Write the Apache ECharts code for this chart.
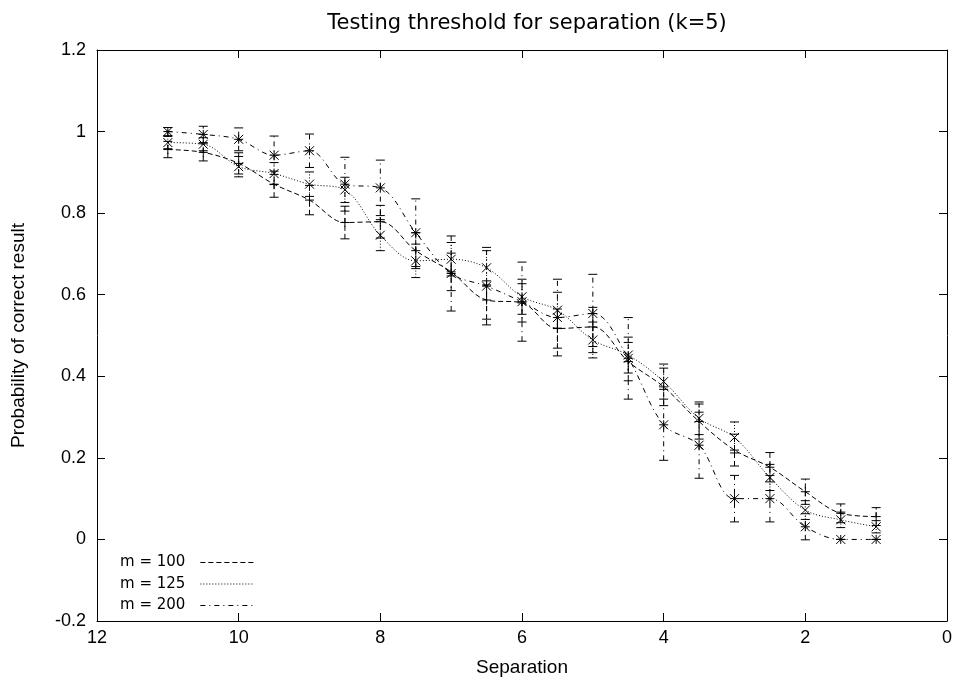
<!DOCTYPE html>
<html><head><meta charset="utf-8">
<script src="https://cdn.jsdelivr.net/npm/echarts@6/dist/echarts.min.js"></script>
<style>html,body{margin:0;padding:0;background:#fff}#c{width:958px;height:685px}</style>
</head><body><div id="c"></div>
<script>
// ---- data ----
const separation = [11, 10.5, 10, 9.5, 9, 8.5, 8, 7.5, 7, 6.5, 6, 5.5, 5, 4.5, 4, 3.5, 3, 2.5, 2, 1.5, 1];
const m100    = [0.956, 0.949, 0.922, 0.871, 0.832, 0.777, 0.779, 0.708, 0.656, 0.587, 0.580, 0.517, 0.521, 0.436, 0.374, 0.289, 0.219, 0.177, 0.117, 0.064, 0.056];
const m100Err = [0.020, 0.021, 0.026, 0.032, 0.036, 0.040, 0.040, 0.044, 0.046, 0.047, 0.047, 0.048, 0.048, 0.047, 0.046, 0.043, 0.039, 0.036, 0.031, 0.023, 0.022];
const m125    = [0.973, 0.969, 0.914, 0.897, 0.871, 0.857, 0.746, 0.683, 0.687, 0.666, 0.595, 0.562, 0.489, 0.452, 0.387, 0.297, 0.250, 0.152, 0.072, 0.048, 0.031];
const m125Err = [0.015, 0.016, 0.025, 0.027, 0.030, 0.031, 0.038, 0.041, 0.041, 0.042, 0.043, 0.044, 0.044, 0.044, 0.043, 0.040, 0.038, 0.032, 0.023, 0.019, 0.015];
const m200    = [1.000, 0.993, 0.981, 0.942, 0.953, 0.871, 0.862, 0.752, 0.652, 0.621, 0.583, 0.544, 0.554, 0.444, 0.281, 0.231, 0.100, 0.100, 0.031, 0.000, 0.000];
const m200Err = [0.010, 0.020, 0.028, 0.047, 0.041, 0.066, 0.068, 0.083, 0.092, 0.095, 0.097, 0.094, 0.096, 0.100, 0.087, 0.081, 0.057, 0.057, 0.032, 0.000, 0.000];
const seriesNames = ['m = 100', 'm = 125', 'm = 200'];
const xTicks = [0, 12, 2];      // min, max, interval
const yTicks = [-0.2, 1.2, 0.2];
const titleText = 'Testing threshold for separation (k=5)';
const xName = 'Separation';
const yName = 'Probability of correct result';

// ---- styling ----
const FONT_T = 'DejaVu Sans';
const FONT = 'Liberation Sans';
const dashes = [[5, 3], [1, 2], [5, 4, 1, 4]];
const symbols = [
  'path://M0 5L10 5M5 0L5 10',
  'path://M0 0L10 10M0 10L10 0',
  'path://M0 5L10 5M5 0L5 10M0 0L10 10M0 10L10 0'
];
const values = [m100, m125, m200];
const errs = [m100Err, m125Err, m200Err];

function pairs(v) { return separation.map((x, i) => [x, v[i]]); }
function errData(v, e) { return separation.map((x, i) => [x, v[i] - e[i], v[i] + e[i]]); }

const series = [];
for (let k = 0; k < 3; k++) {
  series.push({
    name: seriesNames[k],
    type: 'line',
    data: pairs(values[k]),
    smooth: 0.35,
    symbol: symbols[k],
    symbolSize: 9,
    itemStyle: { color: '#000', borderColor: '#000', borderWidth: 1 },
    lineStyle: { color: '#000', width: 1, type: dashes[k] },
    z: 3
  });
  const dash = dashes[k];
  series.push({
    name: seriesNames[k] + ' err',
    type: 'custom',
    data: errData(values[k], errs[k]),
    encode: { x: 0, y: [1, 2] },
    silent: true,
    z: 2,
    renderItem: function (params, api) {
      const x = api.value(0);
      const lo = api.coord([x, api.value(1)]);
      const hi = api.coord([x, api.value(2)]);
      const c = 4.5;
      const st = { stroke: '#000', lineWidth: 1, lineDash: dash, fill: null };
      const cs = { stroke: '#000', lineWidth: 1, fill: null };
      return {
        type: 'group',
        children: [
          { type: 'line', shape: { x1: lo[0], y1: lo[1], x2: hi[0], y2: hi[1] }, style: st },
          { type: 'line', shape: { x1: lo[0] - c, y1: lo[1], x2: lo[0] + c, y2: lo[1] }, style: cs },
          { type: 'line', shape: { x1: hi[0] - c, y1: hi[1], x2: hi[0] + c, y2: hi[1] }, style: cs }
        ]
      };
    }
  });
}

const axisCommon = {
  axisLine: { show: true, onZero: false, lineStyle: { color: '#000', width: 1 } },
  axisTick: { show: true, inside: true, length: 8, lineStyle: { color: '#000', width: 1 } },
  splitLine: { show: false }
};
const fmt = v => String(Math.round(v * 10) / 10);

const chart = echarts.init(document.getElementById('c'), null, { renderer: 'canvas' });
chart.setOption({
  backgroundColor: '#fff',
  animation: false,
  title: {
    text: titleText, left: 522, top: 8, textAlign: 'center',
    textStyle: { fontFamily: FONT_T, fontSize: 21, fontWeight: 'normal', color: '#000' }
  },
  grid: { left: 97, right: 11, top: 50, bottom: 64 },
  legend: {
    data: seriesNames,
    orient: 'vertical', left: 115, top: 550, align: 'right',
    itemWidth: 54, itemHeight: 14, itemGap: 6.5,
    textStyle: { fontFamily: FONT_T, fontSize: 15, color: '#000', padding: [0, 10, 0, 0] },
    itemStyle: { opacity: 0 },
    lineStyle: { width: 1 },
    selectedMode: false
  },
  xAxis: [
    Object.assign({
      type: 'value', min: xTicks[0], max: xTicks[1], interval: xTicks[2], inverse: true, position: 'bottom',
      name: xName, nameLocation: 'middle', nameGap: 37,
      nameTextStyle: { fontFamily: FONT, fontSize: 19, color: '#000' },
      axisLabel: { fontFamily: FONT, fontSize: 18, color: '#000', margin: 8, formatter: fmt }
    }, axisCommon),
    Object.assign({
      type: 'value', min: xTicks[0], max: xTicks[1], interval: xTicks[2], inverse: true, position: 'top',
      axisLabel: { show: false }
    }, axisCommon)
  ],
  yAxis: [
    Object.assign({
      type: 'value', min: yTicks[0], max: yTicks[1], interval: yTicks[2], position: 'left',
      name: yName, nameLocation: 'middle', nameGap: 69,
      nameTextStyle: { fontFamily: FONT, fontSize: 19, color: '#000' },
      axisLabel: { fontFamily: FONT, fontSize: 18, color: '#000', margin: 11, formatter: fmt }
    }, axisCommon),
    Object.assign({
      type: 'value', min: yTicks[0], max: yTicks[1], interval: yTicks[2], position: 'right',
      axisLabel: { show: false }
    }, axisCommon)
  ],
  series: series
});
</script>
</body></html>
